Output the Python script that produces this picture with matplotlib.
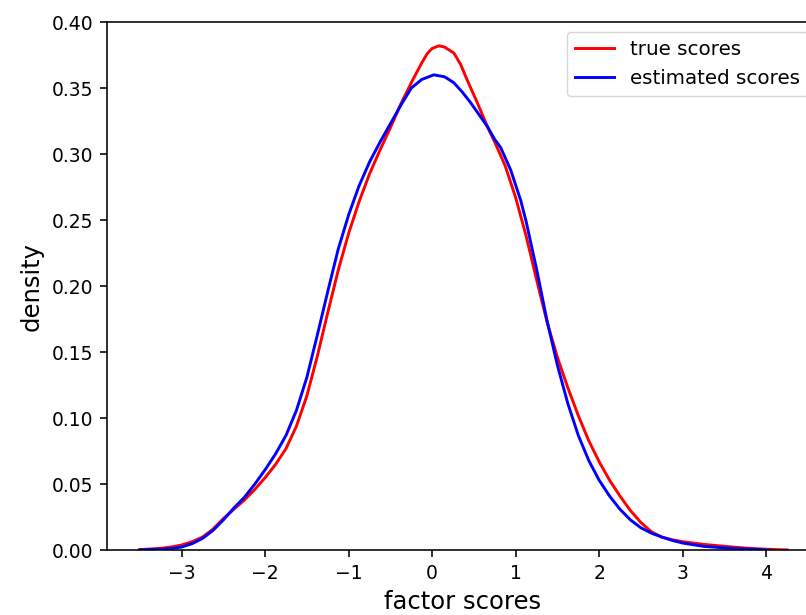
import matplotlib
matplotlib.use("Agg")
import matplotlib.pyplot as plt

# density curves
true_x = [-3.5, -3.25, -3.125, -3.0, -2.875, -2.75, -2.625, -2.5, -2.375, -2.25,
          -2.125, -2.0, -1.875, -1.75, -1.625, -1.5, -1.375, -1.25, -1.125, -1.0,
          -0.875, -0.75, -0.625, -0.5, -0.375, -0.25, -0.125, -0.06, 0.0, 0.08,
          0.15, 0.26, 0.34, 0.42, 0.54, 0.66, 0.75, 0.875, 1.0, 1.125,
          1.25, 1.375, 1.5, 1.625, 1.75, 1.875, 2.0, 2.125, 2.25, 2.375,
          2.5, 2.625, 2.75, 2.875, 3.0, 3.25, 3.5, 3.75, 4.0, 4.25]
true_d = [0.0005, 0.0015, 0.0025, 0.004, 0.0065, 0.010, 0.016, 0.024, 0.031, 0.038,
          0.046, 0.055, 0.065, 0.077, 0.094, 0.117, 0.147, 0.180, 0.212, 0.240,
          0.264, 0.285, 0.303, 0.320, 0.338, 0.354, 0.369, 0.376, 0.380, 0.382,
          0.381, 0.3765, 0.368, 0.356, 0.339, 0.321, 0.309, 0.291, 0.267, 0.238,
          0.205, 0.173, 0.146, 0.123, 0.102, 0.083, 0.067, 0.053, 0.041, 0.030,
          0.021, 0.014, 0.010, 0.008, 0.0065, 0.0045, 0.003, 0.0017, 0.0008, 0.0003]

est_x = [-3.5, -3.25, -3.125, -3.0, -2.875, -2.75, -2.625, -2.5, -2.375, -2.25,
         -2.125, -2.0, -1.875, -1.75, -1.625, -1.5, -1.375, -1.25, -1.125, -1.0,
         -0.875, -0.75, -0.625, -0.5, -0.375, -0.25, -0.125, 0.02, 0.15, 0.26,
         0.36, 0.46, 0.56, 0.66, 0.75, 0.82, 0.94, 1.06, 1.125, 1.25,
         1.375, 1.5, 1.625, 1.75, 1.875, 2.0, 2.125, 2.25, 2.375, 2.5,
         2.625, 2.75, 2.875, 3.0, 3.25, 3.5, 3.75, 4.05]
est_d = [0.0003, 0.0008, 0.0013, 0.0025, 0.005, 0.009, 0.015, 0.023, 0.032, 0.040,
         0.050, 0.061, 0.073, 0.087, 0.106, 0.131, 0.163, 0.196, 0.228, 0.254,
         0.276, 0.294, 0.309, 0.323, 0.337, 0.350, 0.3565, 0.360, 0.3585, 0.354,
         0.347, 0.339, 0.330, 0.321, 0.311, 0.305, 0.288, 0.265, 0.249, 0.213,
         0.174, 0.140, 0.111, 0.087, 0.068, 0.053, 0.041, 0.031, 0.023, 0.017,
         0.013, 0.010, 0.0075, 0.0055, 0.003, 0.0018, 0.001, 0.0002]

fig = plt.figure(figsize=(8.06, 6.15), dpi=100)
# the reference is cropped: right spine sits just outside the picture
ax = fig.add_axes([0.1331, 0.1052, 0.8818, 0.859])

ax.plot(true_x, true_d, color="red", lw=2.1, label="true scores")
ax.plot(est_x, est_d, color="blue", lw=2.1, label="estimated scores")

ax.set_xlim(-3.89, 4.62)
ax.set_ylim(0, 0.40)
ax.set_yticks([0.0, 0.05, 0.10, 0.15, 0.20, 0.25, 0.30, 0.35, 0.40])
ax.set_yticklabels(["0.00", "0.05", "0.10", "0.15", "0.20", "0.25", "0.30", "0.35", "0.40"])
ax.set_xticks([-3, -2, -1, 0, 1, 2, 3, 4])

ax.tick_params(labelsize=13.5, length=5, width=1.15, pad=5)
for s in ax.spines.values():
    s.set_linewidth(1.15)

ax.set_xlabel("factor scores", fontsize=17.5, labelpad=5)
ax.set_ylabel("density", fontsize=17.5, labelpad=6)

ax.legend(loc="upper right", fontsize=14.3)

fig.savefig("out.png", dpi=100)
